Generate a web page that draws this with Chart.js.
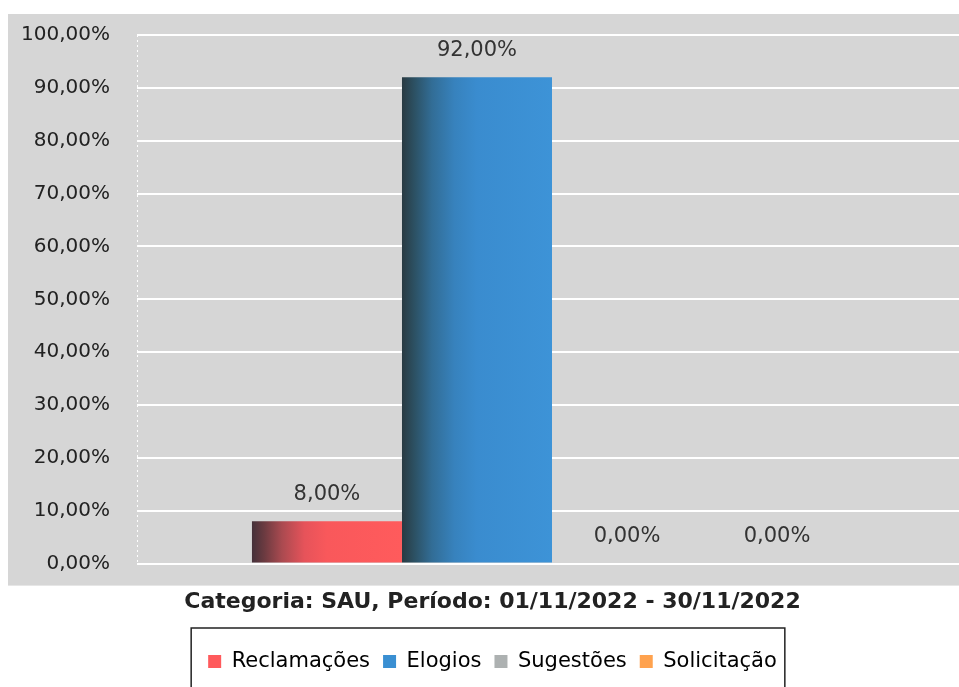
<!DOCTYPE html>
<html lang="pt">
<head>
  <meta charset="UTF-8" />
  <title>SAU - Novembro 2022</title>
  <script src="https://cdn.jsdelivr.net/npm/chart.js"></script>
  <style>
    body {
      margin: 0;
      padding: 0;
      background: #fff;
      overflow: hidden;
    }

    /* a bit wider than the window: the plot runs off the right edge like the scan */
    #chartContainer {
      width: 967px;
      height: 687px;
      position: relative;
    }
  </style>
</head>
<body>
  <div id="chartContainer">
    <canvas id="sauChart"></canvas>
  </div>

  <script>
    const category = ['SAU'];
    const seriesNames = ['Reclamações', 'Elogios', 'Sugestões', 'Solicitação'];
    const seriesValues = [8, 92, 0, 0];
    const legendColors = ['#ff5a5c', '#3a8fd2', '#adb1b1', '#ffa24e'];
    const yTicks = [0, 10, 20, 30, 40, 50, 60, 70, 80, 90, 100];
    const chartTitle = 'Categoria: SAU, Período: 01/11/2022 - 30/11/2022';

    const FONT = '"DejaVu Sans", sans-serif';

    // dark left edge going into the bar colour
    const gradientStops = [
      [[0, '#45313a'], [0.08, '#6a3a40'], [0.2, '#aa4a50'], [0.35, '#e6535a'], [0.5, '#f9585b'], [1, '#ff5b5c']],
      [[0, '#293a42'], [0.08, '#2c5062'], [0.2, '#326d96'], [0.35, '#3782bd'], [0.5, '#3a8ccf'], [1, '#3d93d7']],
      [[0, '#555'], [0.3, '#a5a9a9'], [1, '#adb1b1']],
      [[0, '#6a4020'], [0.3, '#f79a48'], [1, '#ffa24e']]
    ];

    function fmtPct(v) {
      return v.toFixed(2).replace('.', ',') + '%';
    }

    function barFill(ctx) {
      const i = ctx.datasetIndex;
      const el = ctx.chart.getDatasetMeta(i).data[ctx.dataIndex];
      if (!el || !el.width) return legendColors[i];
      const left = el.x - el.width / 2;
      const g = ctx.chart.ctx.createLinearGradient(left, 0, left + el.width, 0);
      gradientStops[i].forEach(s => g.addColorStop(s[0], s[1]));
      return g;
    }

    const greyBackground = {
      id: 'greyBackground',
      beforeDraw(chart) {
        const a = chart.chartArea;
        const c = chart.ctx;
        c.save();
        c.fillStyle = '#d6d6d6';
        c.fillRect(8, a.top - 21, chart.width - 8, a.bottom - a.top + 43);
        c.restore();
      }
    };

    const valueLabels = {
      id: 'valueLabels',
      afterDatasetsDraw(chart) {
        const c = chart.ctx;
        c.save();
        c.font = '21px ' + FONT;
        c.fillStyle = '#333';
        c.textAlign = 'center';
        c.textBaseline = 'middle';
        chart.data.datasets.forEach((ds, i) => {
          chart.getDatasetMeta(i).data.forEach((el, j) => {
            c.fillText(fmtPct(ds.data[j]), el.x, el.y - 27);
          });
        });
        c.restore();
      }
    };

    const legendBox = {
      id: 'legendBox',
      afterDraw(chart) {
        const lg = chart.legend;
        const items = lg.legendHitBoxes;
        if (!items.length) return;
        const first = items[0];
        const last = items[items.length - 1];
        const c = chart.ctx;
        c.save();
        c.strokeStyle = '#222';
        c.lineWidth = 1.5;
        c.strokeRect(first.left - 17, lg.top - 10, last.left + last.width - first.left + 25, 90);
        c.restore();
      }
    };

    const ctx = document.getElementById('sauChart').getContext('2d');
    const sauChart = new Chart(ctx, {
      type: 'bar',
      data: {
        labels: category,
        datasets: seriesNames.map((name, i) => ({
          label: name,
          data: [seriesValues[i]],
          backgroundColor: barFill,
          borderWidth: 0
        }))
      },
      options: {
        responsive: true,
        maintainAspectRatio: false,
        animation: false,
        layout: {
          padding: { top: 35, left: 18, right: 0, bottom: 5 }
        },
        datasets: {
          bar: { categoryPercentage: 0.723, barPercentage: 1 }
        },
        plugins: {
          tooltip: { enabled: false },
          title: {
            display: true,
            position: 'bottom',
            weight: 500,
            text: chartTitle,
            color: '#222',
            font: { family: FONT, size: 22, weight: 'bold' },
            padding: { top: 25, bottom: 23 }
          },
          legend: {
            position: 'bottom',
            labels: {
              font: { family: FONT, size: 21 },
              color: '#222',
              boxWidth: 13,
              boxHeight: 13,
              padding: 13,
              generateLabels: () => seriesNames.map((name, i) => ({
                text: name,
                fillStyle: legendColors[i],
                strokeStyle: legendColors[i],
                lineWidth: 0,
                datasetIndex: i
              }))
            }
          }
        },
        scales: {
          x: {
            ticks: { display: false },
            grid: { color: '#ffffff', lineWidth: 1, drawTicks: false },
            border: { display: false, dash: [2, 3] }
          },
          y: {
            min: 0,
            max: 100,
            afterBuildTicks: axis => {
              axis.ticks = yTicks.map(v => ({ value: v }));
            },
            afterFit: axis => {
              axis.width = 119;
              axis.paddingTop = 0;
              axis.paddingBottom = 0;
            },
            ticks: {
              padding: 27,
              color: '#222',
              font: { family: FONT, size: 20 },
              callback: v => fmtPct(v)
            },
            grid: {
              color: '#ffffff',
              lineWidth: 2,
              drawTicks: false
            },
            border: { display: false }
          }
        }
      },
      plugins: [greyBackground, valueLabels, legendBox]
    });

    // second pass so the gradients know where the bars are
    sauChart.update();
  </script>
</body>
</html>
